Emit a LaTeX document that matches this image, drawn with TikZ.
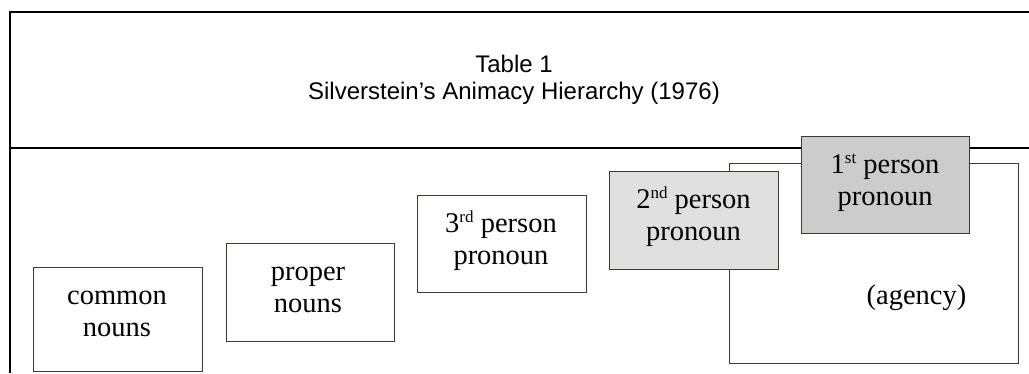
\documentclass[tikz,border=0pt]{standalone}
\usepackage{fontspec}
\setmainfont{Liberation Serif}
\newfontfamily\titlefont{Liberation Sans}
\definecolor{boxline}{RGB}{58,58,46}
\definecolor{lightfill}{RGB}{224,224,224}
\definecolor{darkfill}{RGB}{204,204,204}
\newcommand{\mysup}[1]{\raisebox{9.5pt}{\fontsize{17}{17}\selectfont #1}}
\begin{document}
\begin{tikzpicture}[x=1pt,y=-1pt,
  frameline/.style={line width=2pt,black},
  boxshape/.style={draw=boxline,line width=1.4pt,rectangle,inner sep=0pt,anchor=north west},
  boxtext/.style={font=\fontsize{28.5}{32.5}\selectfont,align=center,anchor=base,inner sep=0pt},
  titletext/.style={font=\titlefont\fontsize{24}{27}\selectfont,anchor=base,inner sep=0pt}]
\useasboundingbox (0,0) rectangle (1029,373);
% frame
\coordinate (tr) at (1029,12);
\coordinate (tl) at (10,12);
\coordinate (bl) at (10,373);
\coordinate (dl) at (10,147.5);
\coordinate (dr) at (1029,147.5);
\draw[frameline] (tr) -- (tl) -- (bl);
\draw[frameline] (dl) -- (dr);
% title
\node[titletext] (t1) at (514,72.5) {Table 1};
\node[titletext] (t2) at (514,99.5) {Silverstein’s Animacy Hierarchy (1976)};
% boxes
\node[boxshape,minimum width=169pt,minimum height=104pt] (common) at (33,267) {};
\node[boxtext] (commont) at (117,304) {common};
\node[boxtext] (commonu) at (117,336.5) {nouns};
\node[boxshape,minimum width=168pt,minimum height=98pt] (proper) at (226,243) {};
\node[boxtext] (propert) at (308,280) {proper};
\node[boxtext] (properu) at (308,312.5) {nouns};
\node[boxshape,minimum width=169pt,minimum height=97pt] (third) at (417,195) {};
\node[boxtext] (thirdt) at (501,232) {3\mysup{rd} person};
\node[boxtext] (thirdu) at (501,264.5) {pronoun};
\node[boxshape,fill=white,minimum width=289pt,minimum height=200pt] (agency) at (729,163) {};
\node[boxtext] (agencyt) at (916.5,304) {(agency)};
\node[boxshape,fill=lightfill,minimum width=169pt,minimum height=98pt] (second) at (609,171) {};
\node[boxtext] (secondt) at (693.5,208) {2\mysup{nd} person};
\node[boxtext] (secondu) at (693.5,240.5) {pronoun};
\node[boxshape,fill=darkfill,minimum width=168pt,minimum height=97pt] (first) at (801,136) {};
\node[boxtext] (firstt) at (885,173) {1\mysup{st} person};
\node[boxtext] (firstu) at (885,205.5) {pronoun};
\end{tikzpicture}
\end{document}
